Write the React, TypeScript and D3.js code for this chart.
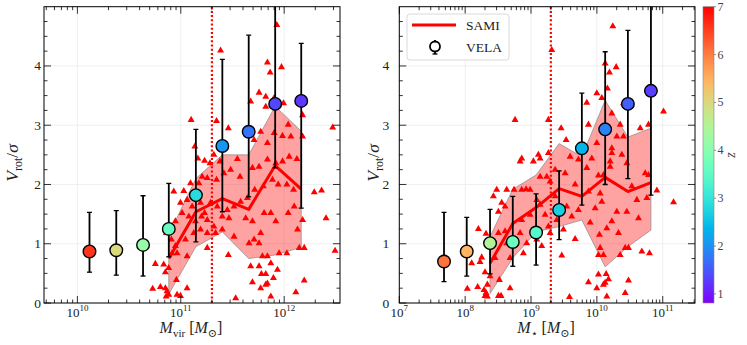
import * as d3 from 'd3';

const W = 747, H = 345;
const TOP = 6.7, BOTTOM = 303;

// VELA bins, left panel (log10 Mvir), median Vrot/sigma, error range, redshift
const velaVirLogM = [10.117, 10.376, 10.635, 10.884, 11.146, 11.402, 11.657, 11.913, 12.165];
const velaVirV = [0.87, 0.89, 0.98, 1.25, 1.82, 2.65, 2.89, 3.36, 3.41];
const velaVirHi = [1.53, 1.56, 1.81, 2.02, 2.93, 4.11, 4.52, 5.3, 4.38];
const velaVirLo = [0.52, 0.47, 0.455, 0.78, 1.03, 1.54, 1.79, 2.28, 1.6];
const velaVirZ = [6.6, 5.0, 4.2, 3.6, 2.85, 2.05, 1.74, 1.37, 1.24];

// VELA bins, right panel (log10 Mstar)
const velaStarLogM = [7.679, 8.024, 8.378, 8.723, 9.077, 9.427, 9.772, 10.126, 10.471, 10.821];
const velaStarV = [0.7, 0.87, 1.01, 1.03, 1.19, 1.57, 2.61, 2.93, 3.36, 3.58];
const velaStarHi = [1.53, 1.445, 1.58, 1.8, 1.84, 2.23, 3.54, 4.24, 4.6, 5.3];
const velaStarLo = [0.36, 0.455, 0.49, 0.62, 0.64, 1.07, 1.65, 2.0, 2.1, 1.82];
const velaStarZ = [6.07, 5.45, 4.5, 3.66, 3.41, 2.67, 2.36, 1.86, 1.55, 1.3];

// SAMI running median and band
const samiVirBinLogM = [10.884, 11.146, 11.402, 11.657, 11.913, 12.165];
const samiVirMed = [0.75, 1.54, 1.76, 1.58, 2.32, 1.92];
const samiVirHi = [1.15, 2.1, 2.5, 2.5, 3.32, 2.9];
const samiVirLo = [0.15, 0.95, 1.2, 0.75, 0.81, 0.94];

const samiStarBinLogM = [8.378, 8.723, 9.077, 9.427, 9.772, 10.126, 10.471, 10.821];
const samiStarMed = [0.67, 1.34, 1.61, 1.93, 1.8, 2.12, 1.88, 2.03];
const samiStarHi = [1.12, 1.92, 2.16, 2.69, 2.47, 3.42, 2.8, 2.95];
const samiStarLo = [0.16, 0.76, 1.2, 1.29, 1.4, 0.61, 0.95, 1.23];

// SAMI galaxies [log10 M, Vrot/sigma]
const samiVirGals = [
  [11.385,4.26],[11.929,4.69],[11.838,4.06],[11.974,3.98],[11.864,3.89],[11.757,3.55],[11.822,3.48],[11.903,3.46],
  [11.676,3.40],[11.994,3.37],[11.822,3.31],[11.100,3.09],[11.346,3.07],[12.178,3.17],[12.469,2.96],[12.039,3.01],
  [11.460,2.95],[12.065,2.81],[12.178,2.81],[11.773,2.89],[11.903,2.87],[11.984,2.82],[11.838,2.70],[11.709,2.75],
  [11.136,2.64],[11.165,2.44],[11.230,2.40],[11.320,2.50],[11.282,2.36],[11.379,2.39],[11.547,2.43],[11.417,2.19],
  [10.932,1.88],[11.029,1.89],[11.094,2.02],[11.175,2.02],[11.207,2.13],[11.256,2.11],[11.346,2.08],[11.482,2.25],
  [11.573,2.13],[11.693,2.28],[11.757,2.30],[11.838,2.42],[11.919,2.36],[11.984,2.39],[12.049,2.47],[12.123,2.43],
  [10.997,1.69],[11.061,1.74],[11.110,1.63],[11.191,1.69],[11.230,1.52],[11.288,1.69],[11.353,1.63],[11.450,1.57],
  [11.515,1.63],[11.579,1.71],[11.644,1.77],[11.715,1.91],[11.799,1.97],[11.887,2.08],[11.942,2.00],[12.026,2.00],
  [12.091,1.91],[12.291,1.87],[12.362,1.90],[10.948,1.38],[11.013,1.52],[11.078,1.46],[11.142,1.38],[11.201,1.46],
  [11.256,1.40],[11.320,1.29],[11.401,1.46],[11.466,1.43],[11.628,1.43],[11.693,1.38],[11.806,1.52],[11.871,1.52],
  [12.039,1.52],[12.097,1.63],[12.178,1.40],[12.405,1.43],[10.861,1.18],[10.909,1.07],[10.948,0.96],[11.045,1.07],
  [11.126,1.18],[11.191,1.24],[11.256,1.18],[11.337,1.18],[11.401,1.24],[11.515,1.12],[11.709,1.07],[11.773,1.18],
  [11.919,1.38],[12.129,1.24],[10.835,0.65],[10.916,0.84],[10.964,0.84],[11.061,0.79],[11.256,0.93],[11.460,0.81],
  [11.660,1.01],[11.757,1.01],[11.790,0.79],[11.838,0.79],[11.871,0.67],[11.951,0.84],[12.026,0.84],[12.146,0.93],
  [12.194,0.93],[12.492,0.88],[10.754,0.66],[10.851,0.52],[10.883,0.59],[11.676,0.62],[11.757,0.62],[11.780,0.49],
  [11.822,0.49],[11.896,0.42],[11.935,0.56],[10.728,0.24],[10.803,0.27],[10.851,0.25],[10.867,0.20],[10.883,0.14],
  [10.858,0.11],[10.964,0.14],[10.997,0.12],[10.958,0.39],[11.061,0.25],[11.531,0.08],[11.693,0.35],[11.773,0.25],
  [11.822,0.31],[11.838,0.33],[11.871,0.11],[12.113,0.18],[12.194,0.38],
];

const samiStarGals = [
  [10.242,4.67],[9.315,4.27],[10.126,4.04],[10.191,3.89],[10.293,3.98],[10.161,3.62],[9.999,3.54],[10.075,3.46],
  [9.847,3.38],[10.404,3.37],[10.445,3.37],[11.012,3.23],[10.227,3.20],[9.872,3.01],[9.457,2.95],[10.354,3.01],
  [10.658,2.95],[10.784,3.01],[9.533,2.75],[10.303,2.81],[10.404,2.81],[9.999,2.70],[10.227,2.61],[10.227,2.53],
  [10.379,2.50],[9.923,2.44],[10.202,2.39],[10.202,2.30],[10.455,2.36],[9.518,2.19],[9.366,2.25],[9.847,2.28],
  [10.734,2.19],[10.784,2.16],[10.024,2.15],[10.100,2.16],[9.290,2.05],[9.670,2.00],[10.531,1.97],[10.911,1.90],
  [11.164,1.70],[9.872,1.88],[10.050,1.85],[10.759,1.77],[10.075,1.71],[10.607,1.74],[9.974,1.60],[9.720,1.57],
  [10.455,1.54],[10.303,1.54],[9.619,1.46],[10.632,1.43],[10.227,1.38],[9.898,1.36],[10.151,1.26],[10.328,1.18],
  [9.670,1.08],[10.039,1.15],[10.430,0.93],[10.480,0.93],[10.050,0.93],[10.024,0.81],[10.100,0.81],[10.354,0.81],
  [10.683,0.87],[10.799,0.84],[9.467,0.80],[10.024,0.48],[10.176,0.40],[9.872,0.35],[10.480,0.38],[10.100,0.31],
  [9.999,0.25],[10.430,0.17],[10.151,0.11],[9.584,0.10],[8.758,3.09],[9.264,3.09],[8.859,2.44],[8.834,2.39],
  [9.112,2.50],[9.138,2.44],[9.036,2.39],[8.479,1.91],[8.429,1.80],[8.631,1.91],[8.743,1.91],[8.859,1.91],
  [8.925,1.92],[8.986,1.91],[9.138,2.13],[8.555,1.69],[8.606,1.63],[8.986,1.49],[8.859,1.40],[9.214,1.49],
  [8.201,1.25],[8.317,1.17],[8.505,1.18],[8.606,1.21],[8.834,1.18],[8.251,0.77],[8.099,0.67],[8.226,0.69],
  [8.682,0.76],[9.163,0.96],[8.302,0.52],[8.378,0.45],[8.520,0.39],[8.033,0.24],[8.190,0.27],[8.287,0.22],
  [8.317,0.17],[8.302,0.12],[8.337,0.11],[8.337,0.31],[8.505,0.12],[8.545,0.12],[8.682,0.25],[10.126,0.34],
  [10.141,0.49],[9.264,2.53],[9.239,2.13],[9.594,2.47],[9.720,2.42],[9.087,1.74],[9.366,1.80],[9.543,1.63],
  [9.264,1.29],[9.391,1.40],[9.290,1.18],[9.492,1.24],[8.935,1.01],[9.087,1.07],[8.733,0.96],[8.884,0.84],
  [8.505,1.54],[9.138,1.66],[8.631,1.01],[8.454,0.76],
];

const yTicks = [0, 1, 2, 3, 4];
const zTicks = [1, 2, 3, 4, 5, 6, 7];
const zDomain = [0.81, 7];

const FONT = '"Liberation Serif", "DejaVu Serif", serif';

// matplotlib "rainbow"
function rainbow(t: number) {
  t = Math.max(0, Math.min(1, t));
  const r = Math.min(1, Math.abs(2 * t - 0.5));
  const g = Math.sin(Math.PI * t);
  const b = Math.cos((Math.PI * t) / 2);
  return d3.rgb(r * 255, g * 255, b * 255).formatHex();
}
const zNorm = d3.scaleLinear().domain(zDomain).range([0, 1]);
const zColor = (z: number) => rainbow(zNorm(z));

const y = d3.scaleLinear().domain([0, 5]).range([BOTTOM, TOP]);
const tri = d3.symbol(d3.symbolTriangle).size(21)();

function Panel({ id, x, gals, binLogM, med, hi, lo, vLogM, vV, vHi, vLo, vZ, cut }: any) {
  const [x0, x1] = x.range();
  const [d0, d1] = x.domain();
  const minor: number[] = [];
  for (let e = Math.floor(Math.log10(d0)); e <= Math.ceil(Math.log10(d1)); e++) {
    for (let k = 2; k <= 9; k++) {
      const v = k * 10 ** e;
      if (v > d0 && v < d1) minor.push(v);
    }
  }
  const major: number[] = [];
  for (let e = Math.ceil(Math.log10(d0) - 1e-9); 10 ** e <= d1; e++) major.push(e);
  const yMinor = d3.range(0.25, 5, 0.25).filter((v) => Math.abs(v - Math.round(v)) > 1e-6);

  const band = d3.area<number>()
    .x((_, i) => x(10 ** binLogM[i]))
    .y0((_, i) => y(lo[i]))
    .y1((_, i) => y(hi[i]));
  const line = d3.line<number>()
    .x((_, i) => x(10 ** binLogM[i]))
    .y((v) => y(v));

  return (
    <g>
      <defs>
        <clipPath id={id}>
          <rect x={x0} y={TOP} width={x1 - x0} height={BOTTOM - TOP} />
        </clipPath>
      </defs>
      <g stroke="#ebebeb" strokeWidth={0.8}>
        {major.map((e) => <line key={'gx' + e} x1={x(10 ** e)} x2={x(10 ** e)} y1={TOP} y2={BOTTOM} />)}
        {yTicks.map((t) => <line key={'gy' + t} x1={x0} x2={x1} y1={y(t)} y2={y(t)} />)}
      </g>
      <g clipPath={`url(#${id})`}>
        <path d={band(med) || ''} fill="#ff3030" fillOpacity={0.45} stroke="#888" strokeWidth={0.7} />
        {gals.map((g: number[], i: number) => (
          <path key={i} d={tri || ''} fill="#ff0000" transform={`translate(${x(10 ** g[0])},${y(g[1])})`} />
        ))}
        <line x1={x(cut)} x2={x(cut)} y1={TOP} y2={BOTTOM} stroke="#ff0000" strokeWidth={2.2} strokeDasharray="2,2.2" />
        <path d={line(med) || ''} fill="none" stroke="#ff0000" strokeWidth={3} strokeLinejoin="round" />
        {vLogM.map((m: number, i: number) => {
          const cx = x(10 ** m);
          return (
            <g key={'v' + i} stroke="#000">
              <line x1={cx} x2={cx} y1={y(vLo[i])} y2={y(vHi[i])} strokeWidth={1.8} />
              <line x1={cx - 2.5} x2={cx + 2.5} y1={y(vLo[i])} y2={y(vLo[i])} strokeWidth={1.3} />
              <line x1={cx - 2.5} x2={cx + 2.5} y1={y(vHi[i])} y2={y(vHi[i])} strokeWidth={1.3} />
              <circle cx={cx} cy={y(vV[i])} r={6.3} fill={zColor(vZ[i])} strokeWidth={1.4} />
            </g>
          );
        })}
      </g>
      <rect x={x0} y={TOP} width={x1 - x0} height={BOTTOM - TOP} fill="none" stroke="#000" strokeWidth={1} />
      <g stroke="#000" strokeWidth={0.8}>
        {minor.map((v, i) => (
          <g key={'mx' + i}>
            <line x1={x(v)} x2={x(v)} y1={BOTTOM} y2={BOTTOM - 3.5} />
            <line x1={x(v)} x2={x(v)} y1={TOP} y2={TOP + 3.5} />
          </g>
        ))}
        {major.map((e) => (
          <g key={'Mx' + e}>
            <line x1={x(10 ** e)} x2={x(10 ** e)} y1={BOTTOM} y2={BOTTOM - 7} />
            <line x1={x(10 ** e)} x2={x(10 ** e)} y1={TOP} y2={TOP + 7} />
          </g>
        ))}
        {yMinor.map((v, i) => (
          <g key={'my' + i}>
            <line x1={x0} x2={x0 + 3.5} y1={y(v)} y2={y(v)} />
            <line x1={x1} x2={x1 - 3.5} y1={y(v)} y2={y(v)} />
          </g>
        ))}
        {yTicks.map((t) => (
          <g key={'My' + t}>
            <line x1={x0} x2={x0 + 7} y1={y(t)} y2={y(t)} />
            <line x1={x1} x2={x1 - 7} y1={y(t)} y2={y(t)} />
          </g>
        ))}
      </g>
      <g fontFamily={FONT} fill="#222">
        {major.map((e) => (
          <text key={'lx' + e} x={x(10 ** e)} y={316.5} fontSize={13} textAnchor="middle">
            10<tspan dy={-5.5} fontSize={9}>{e}</tspan>
          </text>
        ))}
        {yTicks.map((t) => (
          <text key={'ly' + t} x={x0 - (id === 'cl' ? 3 : 10)} y={y(t) + 4.5} fontSize={13.5} textAnchor="end">{t}</text>
        ))}
      </g>
    </g>
  );
}

export default function App() {
  const xL = d3.scaleLog().domain([10 ** 9.677, 10 ** 12.54]).range([44, 340]);
  const xR = d3.scaleLog().domain([1e7, 10 ** 11.49]).range([399.3, 695]);
  const zy = d3.scaleLinear().domain(zDomain).range([BOTTOM, TOP]);
  const stops = d3.range(0, 1.0001, 0.05);

  const yLabel = (cx: number) => (
    <text transform={`translate(${cx},163) rotate(-90)`} textAnchor="middle" fontFamily={FONT} fontSize={17.5} fill="#222">
      <tspan fontStyle="italic">V</tspan>
      <tspan fontSize={12} dy={3.5}>rot</tspan>
      <tspan dy={-3.5}>/</tspan>
      <tspan fontStyle="italic">σ</tspan>
    </text>
  );

  return (
    <svg width={W} height={H} style={{ position: 'absolute', left: 0, top: 0, background: '#fff' }}>
      <rect width={W} height={H} fill="#fff" />
      <Panel id="cl" x={xL} gals={samiVirGals} binLogM={samiVirBinLogM} med={samiVirMed} hi={samiVirHi} lo={samiVirLo}
        vLogM={velaVirLogM} vV={velaVirV} vHi={velaVirHi} vLo={velaVirLo} vZ={velaVirZ} cut={2e11} />
      <Panel id="cr" x={xR} gals={samiStarGals} binLogM={samiStarBinLogM} med={samiStarMed} hi={samiStarHi} lo={samiStarLo}
        vLogM={velaStarLogM} vV={velaStarV} vHi={velaStarHi} vLo={velaStarLo} vZ={velaStarZ} cut={2e9} />

      {yLabel(18)}
      {yLabel(379)}

      <text x={191} y={333} textAnchor="middle" fontFamily={FONT} fontSize={16} fill="#222">
        <tspan fontStyle="italic">M</tspan>
        <tspan fontSize={11} dy={3.5}>vir</tspan>
        <tspan dy={-3.5}> [</tspan>
        <tspan fontStyle="italic">M</tspan>
        <tspan fontSize={11} dy={3.5}>⊙</tspan>
        <tspan dy={-3.5}>]</tspan>
      </text>
      <text x={546} y={333} textAnchor="middle" fontFamily={FONT} fontSize={16} fill="#222">
        <tspan fontStyle="italic">M</tspan>
        <tspan fontSize={11} dy={3.5}>⋆</tspan>
        <tspan dy={-3.5}> [</tspan>
        <tspan fontStyle="italic">M</tspan>
        <tspan fontSize={11} dy={3.5}>⊙</tspan>
        <tspan dy={-3.5}>]</tspan>
      </text>

      {/* legend */}
      <g fontFamily={FONT} fontSize={13.5} fill="#222">
        <rect x={407} y={14} width={102} height={46} rx={3} fill="#fff" fillOpacity={0.85} stroke="#d0d0d0" strokeWidth={0.8} />
        <line x1={412} x2={456} y1={25} y2={25} stroke="#ff0000" strokeWidth={3} />
        <text x={466} y={29.5}>SAMI</text>
        <g stroke="#000">
          <line x1={435} x2={435} y1={40} y2={54} strokeWidth={1.8} />
          <line x1={432.5} x2={437.5} y1={54} y2={54} strokeWidth={1.3} />
          <circle cx={435} cy={46.5} r={5} fill="#fff" strokeWidth={1.8} />
        </g>
        <text x={466} y={51.5}>VELA</text>
      </g>

      {/* colorbar */}
      <defs>
        <linearGradient id="cbar" x1="0" y1="1" x2="0" y2="0">
          {stops.map((t, i) => <stop key={i} offset={t} stopColor={rainbow(t)} />)}
        </linearGradient>
      </defs>
      <rect x={703} y={TOP} width={11} height={BOTTOM - TOP} fill="url(#cbar)" stroke="#888" strokeWidth={0.6} />
      <g fontFamily={FONT} fontSize={12} fill="#444">
        {zTicks.map((t) => (
          <g key={t}>
            <line x1={714} x2={716} y1={zy(t)} y2={zy(t)} stroke="#666" strokeWidth={0.7} />
            <text x={717.5} y={zy(t) + 4}>{t}</text>
          </g>
        ))}
        <text transform="translate(735,155) rotate(-90)" textAnchor="middle" fontStyle="italic" fontSize={14}>z</text>
      </g>
    </svg>
  );
}
